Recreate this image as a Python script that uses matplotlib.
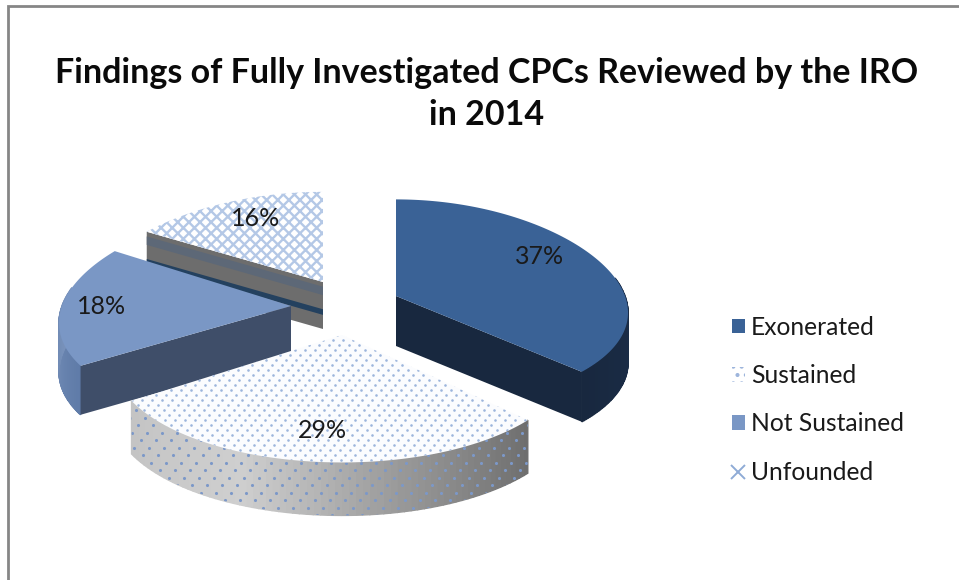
"""
Findings of fully investigated CPCs, drawn as an exploded 3D-look pie.
The axes run in image pixels so the slices can be placed like the reference.
"""

import numpy as np
import matplotlib
matplotlib.use("Agg")
import matplotlib.pyplot as plt
from matplotlib.colors import LinearSegmentedColormap
from matplotlib.lines import Line2D
from matplotlib.patches import Patch, Polygon

categories = ["Exonerated", "Sustained", "Not Sustained", "Unfounded"]
shares = [37, 29, 18, 16]
title_text = "Findings of Fully Investigated CPCs Reviewed by the IRO\nin 2014"

# layout, one entry per slice
apexes = [(396, 296), (342, 335), (291, 306), (323, 282)]
y_radii = [105, 118, 107, 98]
depths = [50, 53, 49, 47]
label_pos = [(540, 256), (322, 431), (102, 307), (256, 219)]
X_RADIUS = 229
X_PERSP = 0.165
Y_PERSP = 0.08

TOP_COLORS = ["#3a6296", "#fbfcfe", "#7a97c5", "#ffffff"]
FACE_COLORS = ["#18283f", None, "#3f4e69", "#6d6d6d"]
DOT_COLOR = "#9db5dc"

# the outer wall only faces the viewer on the lower half of the ellipse
RIM_FROM = np.radians(80)
RIM_TO = np.radians(280)

plt.rcParams["font.family"] = ["Lato", "DejaVu Sans"]
plt.rcParams["hatch.linewidth"] = 1.7


def project(idx, t, r=1.0):
    """Turn a clockwise angle from 12 o'clock into image pixels."""
    u = r * np.sin(t)
    v = -r * np.cos(t)
    x = apexes[idx][0] + X_RADIUS * u * (1 + X_PERSP * v)
    y = apexes[idx][1] + y_radii[idx] * v * (1 + Y_PERSP * v)
    return np.column_stack([x, y])


def draw_dots(ax, clip, spacing, color, size):
    """Staggered dot texture clipped to a patch."""
    xs, ys = np.meshgrid(np.arange(100, 560, spacing), np.arange(320, 530, spacing / 2))
    xs = xs + (np.round(ys / (spacing / 2)) % 2) * spacing / 2 + (ys - 320) * 0.15
    dots = ax.scatter(xs.ravel(), ys.ravel(), s=size, color=color, linewidths=0, zorder=clip.get_zorder())
    dots.set_clip_path(clip)


def draw_rim(ax, idx, t0, t1, cmap, zorder):
    """Outer wall as thin quads so the shading can run along the arc."""
    t0 = max(t0, RIM_FROM)
    t1 = min(t1, RIM_TO)
    if t1 <= t0:
        return
    ts = np.linspace(t0, t1, 70)
    arc = project(idx, ts)
    for i in range(len(ts) - 1):
        quad = [arc[i], arc[i + 1], arc[i + 1] + (0, depths[idx]), arc[i] + (0, depths[idx])]
        ax.add_patch(Polygon(quad, closed=True, facecolor=cmap(i / (len(ts) - 2)),
                             edgecolor=cmap(i / (len(ts) - 2)), linewidth=1.0, zorder=zorder))


fig = plt.figure(figsize=(9.59, 5.8), dpi=100)
ax = fig.add_axes([0, 0, 1, 1])
ax.set_xlim(0, 959)
ax.set_ylim(580, 0)
ax.axis("off")

# grey chart frame, cut off at the bottom and right of the crop
ax.plot([8, 8, 959], [580, 6, 6], color="#868686", lw=2, solid_joinstyle="miter")

ax.text(487, 94, title_text, ha="center", va="center", fontsize=24.5, fontweight="bold",
        color="#0a0a0a", linespacing=1.42)

edges = np.radians(np.cumsum([0] + shares) / sum(shares) * 360)
rim_maps = [
    LinearSegmentedColormap.from_list("rim0", ["#1c2f4c", "#18283f"]),
    LinearSegmentedColormap.from_list("rim1", ["#6e6e6e", "#9a9a9a", "#cfcfcf", "#c4c4c4"]),
    LinearSegmentedColormap.from_list("rim2", ["#5f7ba8", "#7c95bd"]),
    LinearSegmentedColormap.from_list("rim3", ["#6d6d6d", "#6d6d6d"]),
]
# back slices first, the Sustained slice sits in front of everything
order = [3, 0, 2, 1]
for rank, idx in enumerate(order):
    base = 2 + rank * 2
    t0, t1 = edges[idx], edges[idx + 1]
    ts = np.linspace(t0, t1, 120)
    arc = project(idx, ts)
    apex = np.array(apexes[idx], dtype=float)
    drop = np.array([0, depths[idx]])

    draw_rim(ax, idx, t0, t1, rim_maps[idx], base)

    # cut face, only the slices left or right of the front one show it
    if idx == 0:
        end = arc[-1]
        ax.add_patch(Polygon([apex, end, end + drop, apex + drop], closed=True,
                             facecolor=FACE_COLORS[0], edgecolor="none", zorder=base))
    elif idx == 2:
        end = arc[0]
        ax.add_patch(Polygon([apex, end, end + drop, apex + drop], closed=True,
                             facecolor=FACE_COLORS[2], edgecolor="none", zorder=base))
    elif idx == 3:
        end = arc[0]
        ax.add_patch(Polygon([apex, end, end + drop, apex + drop], closed=True,
                             facecolor=FACE_COLORS[3], edgecolor="none", zorder=base))
        # the odd darker stripes on the Unfounded face
        for f0, f1, col in [(0.10, 0.28, "#5d6877"), (0.58, 0.70, "#24415f")]:
            ax.add_patch(Polygon([apex + drop * f0, end + drop * f0, end + drop * f1, apex + drop * f1],
                                 closed=True, facecolor=col, edgecolor="none", zorder=base))

    if idx == 1:
        rim_clip = Polygon(np.vstack([arc, (arc + drop)[::-1]]), closed=True, facecolor="none",
                           edgecolor="none", zorder=base + 0.5)
        ax.add_patch(rim_clip)
        draw_dots(ax, rim_clip, 15, "#7c98c8", 5)

    outline = np.vstack([apex, arc])
    if idx == 3:
        top = Polygon(outline, closed=True, facecolor=TOP_COLORS[idx], edgecolor="#b4c8e6",
                      linewidth=0, hatch="xxx", zorder=base + 1)
    else:
        top = Polygon(outline, closed=True, facecolor=TOP_COLORS[idx], edgecolor="none", zorder=base + 1)
    ax.add_patch(top)
    if idx == 1:
        draw_dots(ax, top, 10, DOT_COLOR, 3.5)

for idx, share in enumerate(shares):
    ax.text(label_pos[idx][0], label_pos[idx][1], f"{share}%", ha="center", va="center",
            fontsize=18, color="#1a1a1a", zorder=20)

handles = [
    Patch(facecolor=TOP_COLORS[0], edgecolor="none"),
    Patch(facecolor="white", edgecolor=DOT_COLOR, linewidth=0, hatch=".."),
    Patch(facecolor=TOP_COLORS[2], edgecolor="none"),
    Line2D([], [], linestyle="none", marker="x", markersize=10, markeredgewidth=1.4, color="#8fabd6"),
]
leg = ax.legend(handles, categories, loc="center left", bbox_to_anchor=(0.763, 0.311), frameon=False,
                fontsize=17.7, handlelength=0.55, handleheight=0.55, handletextpad=0.22,
                labelspacing=1.03, borderpad=0, borderaxespad=0)
for text in leg.get_texts():
    text.set_color("#1a1a1a")

fig.savefig("out.png", dpi=100)
